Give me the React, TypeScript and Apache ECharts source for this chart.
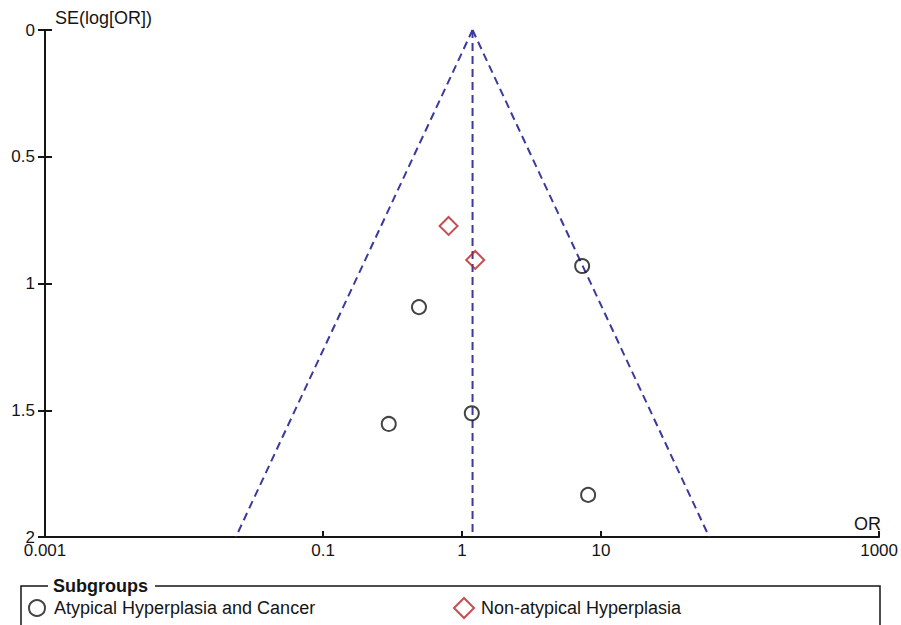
import React, { useEffect, useRef } from "react";
import * as echarts from "echarts";

// Funnel plot data
const pooledOR = 1.19;
const seRange = [0, 2];
const ciLowerAtMax = 0.0236;
const ciUpperAtMax = 60;

const groupAName = "Atypical Hyperplasia and Cancer";
const groupAOR = [7.31, 0.49, 0.297, 1.175, 8.07];
const groupASE = [0.931, 1.093, 1.554, 1.512, 1.834];

const groupBName = "Non-atypical Hyperplasia";
const groupBOR = [0.8, 1.244];
const groupBSE = [0.773, 0.907];

const xTickValues = [0.001, 0.1, 1, 10, 1000];
const yTickValues = [0, 0.5, 1, 1.5, 2];

const FONT = "Liberation Sans, Arial, sans-serif";
const INK = "#151515";
const FUNNEL = "#3a3a9e";
const RED = "#b82228";

export default function App() {
  const ref = useRef<HTMLDivElement>(null);

  useEffect(() => {
    if (!ref.current) return;
    const chart = echarts.init(ref.current, undefined, { renderer: "svg" });

    const aData = groupAOR.map((v, i) => [v, groupASE[i]]);
    const bData = groupBOR.map((v, i) => [v, groupBSE[i]]);

    const dashed = {
      color: FUNNEL,
      width: 2,
      type: [8, 5] as any,
    };

    const option: any = {
      animation: false,
      backgroundColor: "#fff",
      grid: { left: 45, right: 19, top: 30, bottom: 88, containLabel: false },
      xAxis: {
        type: "log",
        logBase: 10,
        min: 0.001,
        max: 1000,
        position: "bottom",
        axisLine: { onZero: false, lineStyle: { color: INK, width: 2 } },
        axisTick: {
          inside: true,
          length: 6,
          customValues: xTickValues,
          lineStyle: { color: INK, width: 2 },
        },
        axisLabel: {
          customValues: xTickValues,
          margin: 6,
          lineHeight: 15,
          color: INK,
          fontSize: 17,
          fontFamily: FONT,
          formatter: (v: number) => String(v),
        },
        splitLine: { show: false },
      },
      yAxis: [
        {
          type: "value",
          inverse: true,
          min: seRange[0],
          max: seRange[1],
          interval: 0.5,
          axisLine: { onZero: false, lineStyle: { color: INK, width: 2 } },
          axisTick: { length: 7, lineStyle: { color: INK, width: 2 } },
          axisLabel: {
            margin: 10,
            lineHeight: 10,
            color: INK,
            fontSize: 17,
            fontFamily: FONT,
            customValues: yTickValues,
            formatter: (v: number) => String(v),
          },
          splitLine: { show: false },
        },
        {
          type: "value",
          inverse: true,
          min: seRange[0],
          max: seRange[1],
          interval: 0.5,
          position: "left",
          axisLine: { show: false, onZero: false },
          axisTick: { show: true, inside: true, length: 7, lineStyle: { color: INK, width: 2 } },
          axisLabel: { show: false },
          splitLine: { show: false },
        },
      ],
      legend: [
        {
          data: [groupAName],
          left: 28,
          top: 599,
          itemWidth: 16,
          itemHeight: 16,
          padding: 0,
          textStyle: { color: INK, fontSize: 18, fontFamily: FONT, padding: [0, 0, 0, 4] },
        },
        {
          data: [groupBName],
          left: 453,
          top: 597,
          itemWidth: 20,
          itemHeight: 20,
          padding: 0,
          textStyle: { color: INK, fontSize: 18, fontFamily: FONT, padding: [0, 0, 0, 2] },
        },
      ],
      series: [
        {
          name: "funnelLeft",
          type: "line",
          data: [
            [pooledOR, seRange[0]],
            [ciLowerAtMax, seRange[1]],
          ],
          symbol: "none",
          lineStyle: dashed,
          silent: true,
        },
        {
          name: "funnelRight",
          type: "line",
          data: [
            [pooledOR, seRange[0]],
            [ciUpperAtMax, seRange[1]],
          ],
          symbol: "none",
          lineStyle: dashed,
          silent: true,
        },
        {
          name: "pooled",
          type: "line",
          data: [
            [pooledOR, seRange[0]],
            [pooledOR, seRange[1]],
          ],
          symbol: "none",
          lineStyle: dashed,
          silent: true,
        },
        {
          name: groupAName,
          type: "scatter",
          data: aData,
          symbol: "circle",
          symbolSize: 14,
          itemStyle: { color: "rgba(0,0,0,0)", borderColor: INK, borderWidth: 2 },
          z: 5,
        },
        {
          name: groupBName,
          type: "scatter",
          data: bData,
          symbol: "diamond",
          symbolSize: 18,
          itemStyle: { color: "rgba(0,0,0,0)", borderColor: RED, borderWidth: 2 },
          z: 5,
        },
      ],
      graphic: [
        {
          type: "text",
          left: 55,
          top: 9,
          style: { text: "SE(log[OR])", fill: INK, fontSize: 18, fontFamily: FONT },
        },
        {
          type: "text",
          x: 881,
          y: 524,
          style: {
            text: "OR",
            fill: INK,
            fontSize: 18,
            fontFamily: FONT,
            align: "right",
            verticalAlign: "middle",
          },
        },
        {
          type: "polyline",
          shape: { points: [[48, 586], [21, 586], [21, 630]] },
          style: { stroke: INK, lineWidth: 1.5, fill: "none" },
        },
        {
          type: "polyline",
          shape: { points: [[155, 586], [880, 586], [880, 630]] },
          style: { stroke: INK, lineWidth: 1.5, fill: "none" },
        },
        {
          type: "text",
          x: 53,
          y: 586,
          style: {
            text: "Subgroups",
            fill: INK,
            fontSize: 18,
            fontWeight: "bold",
            fontFamily: FONT,
            verticalAlign: "middle",
          },
        },
      ],
    };

    chart.setOption(option);
    return () => chart.dispose();
  }, []);

  return (
    <div
      ref={ref}
      style={{ position: "absolute", left: 0, top: 0, width: 901, height: 625 }}
    />
  );
}
